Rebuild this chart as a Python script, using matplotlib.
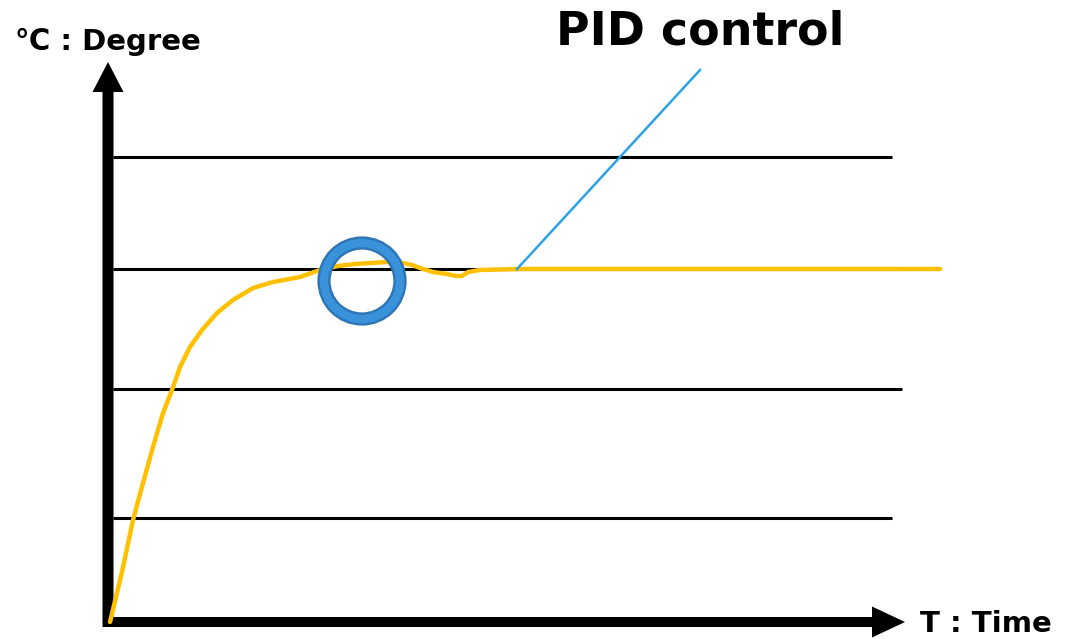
import numpy as np
import matplotlib
matplotlib.use("Agg")
import matplotlib.pyplot as plt
from matplotlib.patches import Circle

plt.rcParams['font.family'] = ['DejaVu Sans', 'Noto Sans CJK JP']

# reference levels (temperature, arbitrary units) and where each line ends in time
levels = [104, 233, 353, 465]
level_ends = [784, 794, 794, 784]

# PID response
time = [2, 14, 25, 35, 45, 55, 64, 72, 82, 94, 109, 125, 145, 165, 192, 212,
        230, 247, 263, 279, 295, 304, 312, 325, 339, 348, 354, 360, 372, 412, 832]
temp = [0, 50, 102, 139, 175, 209, 232, 255, 275, 292, 309, 322, 334, 340, 345, 352,
        356, 358, 359, 360, 359, 357, 354, 350, 348, 346, 346, 350, 352, 353, 353]

circle_center = (254, 341)
circle_radius = 38
leader_start = (409, 353)
leader_end = (592, 552)

fig = plt.figure(figsize=(10.68, 6.39), dpi=100)
ax = fig.add_axes([0, 0, 1, 1])
ax.set_xlim(-108, 960)
ax.set_ylim(-17, 622)
ax.axis('off')

# horizontal guide lines
for lv, end in zip(levels, level_ends):
    ax.plot([5, end], [lv, lv], color='black', lw=2.2, solid_capstyle='butt', zorder=1)

# axes with arrows
ax.arrow(0, -5, 0, 565, width=11, head_width=31, head_length=30,
         length_includes_head=True, color='black', lw=0, zorder=3)
ax.arrow(-5, 0, 802, 0, width=10, head_width=31, head_length=33,
         length_includes_head=True, color='black', lw=0, zorder=3)

# response curve
ax.plot(time, temp, color='#FFC000', lw=3.2, solid_capstyle='round',
        solid_joinstyle='round', antialiased=True, zorder=4)

# leader line
ax.plot([leader_start[0], leader_end[0]], [leader_start[1], leader_end[1]],
        color='#2BA3E6', lw=1.8, zorder=5)

# highlight ring
ax.add_patch(Circle(circle_center, circle_radius, fill=False, ec='#2E75B6', lw=9.5, zorder=6))
ax.add_patch(Circle(circle_center, circle_radius, fill=False, ec='#3A93DA', lw=6, zorder=7))

ax.text(-93, 580, '℃ : Degree', fontsize=21, fontweight='bold', ha='left', va='center')
ax.text(592, 590, 'PID control', fontsize=33, fontweight='bold', ha='center', va='center')
ax.text(812, -2, 'T : Time', fontsize=21, fontweight='bold', ha='left', va='center')

fig.savefig('out.png', dpi=100)
